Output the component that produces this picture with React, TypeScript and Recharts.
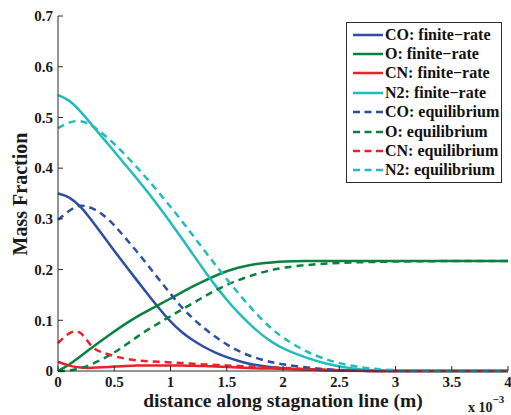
import { LineChart, Line, XAxis, YAxis, Legend, Label } from 'recharts';

const distance = [0, 0.1, 0.2, 0.3, 0.4, 0.5, 0.6, 0.7, 0.8, 0.9, 1.0, 1.1, 1.2, 1.3, 1.4, 1.5, 1.6, 1.7, 1.8, 1.9, 2.0, 2.2, 2.4, 2.6, 2.8, 3.0, 3.5, 4.0];

const coFinite = [0.350, 0.344, 0.325, 0.297, 0.267, 0.237, 0.208, 0.179, 0.151, 0.123, 0.097, 0.076, 0.060, 0.047, 0.036, 0.027, 0.020, 0.014, 0.010, 0.007, 0.005, 0.003, 0.001, 0.0005, 0, 0, 0, 0];
const oFinite = [0, 0.012, 0.029, 0.046, 0.062, 0.078, 0.093, 0.107, 0.119, 0.131, 0.143, 0.155, 0.167, 0.178, 0.188, 0.197, 0.204, 0.209, 0.212, 0.214, 0.216, 0.217, 0.217, 0.217, 0.217, 0.217, 0.217, 0.217];
const cnFinite = [0.018, 0.010, 0.006, 0.006, 0.007, 0.009, 0.010, 0.011, 0.011, 0.011, 0.011, 0.011, 0.010, 0.010, 0.009, 0.008, 0.007, 0.006, 0.005, 0.005, 0.004, 0.003, 0.002, 0.001, 0, 0, 0, 0];
const n2Finite = [0.544, 0.535, 0.512, 0.486, 0.459, 0.433, 0.406, 0.380, 0.352, 0.323, 0.293, 0.262, 0.230, 0.198, 0.168, 0.140, 0.115, 0.093, 0.073, 0.057, 0.044, 0.026, 0.013, 0.005, 0.001, 0, 0, 0];

const coEquil = [0.298, 0.317, 0.329, 0.322, 0.309, 0.288, 0.262, 0.236, 0.208, 0.180, 0.152, 0.125, 0.103, 0.084, 0.067, 0.052, 0.040, 0.030, 0.023, 0.017, 0.013, 0.007, 0.003, 0.001, 0, 0, 0, 0];
const oEquil = [0, 0.001, 0.005, 0.013, 0.024, 0.036, 0.051, 0.067, 0.082, 0.095, 0.108, 0.121, 0.134, 0.147, 0.159, 0.170, 0.179, 0.187, 0.194, 0.199, 0.204, 0.209, 0.212, 0.214, 0.215, 0.216, 0.217, 0.217];
const cnEquil = [0.055, 0.077, 0.082, 0.044, 0.036, 0.029, 0.024, 0.021, 0.019, 0.018, 0.017, 0.016, 0.014, 0.013, 0.012, 0.011, 0.010, 0.009, 0.008, 0.007, 0.006, 0.004, 0.002, 0.001, 0, 0, 0, 0];
const n2Equil = [0.479, 0.491, 0.495, 0.485, 0.468, 0.448, 0.426, 0.402, 0.377, 0.351, 0.324, 0.296, 0.267, 0.238, 0.209, 0.181, 0.154, 0.128, 0.104, 0.083, 0.065, 0.038, 0.021, 0.010, 0.004, 0.001, 0, 0];

const xTicks = [0, 0.5, 1, 1.5, 2, 2.5, 3, 3.5, 4];
const yTicks = [0, 0.1, 0.2, 0.3, 0.4, 0.5, 0.6, 0.7];

const series = [
  { key: 'coF', name: 'CO: finite\u2212rate', color: '#2e4ea2', dashed: false },
  { key: 'oF', name: 'O: finite\u2212rate', color: '#0b8140', dashed: false },
  { key: 'cnF', name: 'CN: finite\u2212rate', color: '#ec2027', dashed: false },
  { key: 'n2F', name: 'N2: finite\u2212rate', color: '#22bcbd', dashed: false },
  { key: 'coE', name: 'CO: equilibrium', color: '#2e4ea2', dashed: true },
  { key: 'oE', name: 'O: equilibrium', color: '#0b8140', dashed: true },
  { key: 'cnE', name: 'CN: equilibrium', color: '#ec2027', dashed: true },
  { key: 'n2E', name: 'N2: equilibrium', color: '#22bcbd', dashed: true },
];

const data = distance.map((x, i) => ({
  x,
  coF: coFinite[i], oF: oFinite[i], cnF: cnFinite[i], n2F: n2Finite[i],
  coE: coEquil[i], oE: oEquil[i], cnE: cnEquil[i], n2E: n2Equil[i],
}));

const FONT = 'Liberation Serif, DejaVu Serif, serif';
const AXIS = '#2a2a2a';

const renderLegend = () => (
  <div style={{ border: `1px solid ${AXIS}`, background: '#fff', width: 154, padding: '2px 0 2px 0', fontFamily: FONT, fontWeight: 'bold', fontSize: 16 }}>
    {series.map((s) => (
      <div key={s.key} style={{ display: 'flex', alignItems: 'center', height: 19.4, whiteSpace: 'nowrap' }}>
        <svg width={38} height={10} style={{ flex: 'none' }}>
          <line x1={6} y1={5} x2={36} y2={5} stroke={s.color} strokeWidth={2.5} strokeDasharray={s.dashed ? '7 4.5' : undefined} />
        </svg>
        <span style={{ color: '#111' }}>{s.name}</span>
      </div>
    ))}
  </div>
);

const tickStyle = { fontFamily: FONT, fontWeight: 'bold', fontSize: 15, fill: '#1a1a1a' };

export default function App() {
  return (
    <div style={{ position: 'absolute', left: 0, top: 0, fontFamily: FONT }}>
      <LineChart width={511} height={415} data={data} margin={{ top: 16, right: 3, left: 0, bottom: 0 }}>
        <XAxis
          dataKey="x"
          type="number"
          domain={[0, 4]}
          ticks={xTicks}
          height={44}
          tickSize={-5}
          tickMargin={10}
          stroke={AXIS}
          tick={tickStyle}
          interval={0}
        >
          <Label
            content={() => (
              <g>
                <text x={283} y={407} textAnchor="middle" fontFamily={FONT} fontWeight="bold" fontSize={19.5} fill="#1a1a1a">distance along stagnation line (m)</text>
                <text x={468} y={412} fontFamily={FONT} fontWeight="bold" fontSize={14} fill="#1a1a1a">
                  x 10<tspan dy={-9} fontSize={11}>{'\u22123'}</tspan>
                </text>
              </g>
            )}
          />
        </XAxis>
        <XAxis xAxisId="top" orientation="top" type="number" domain={[0, 4]} ticks={xTicks} height={0} tickSize={-5} tick={false} stroke={AXIS} interval={0} />
        <YAxis
          type="number"
          domain={[0, 0.7]}
          ticks={yTicks}
          width={58}
          tickSize={-5}
          tickMargin={10}
          stroke={AXIS}
          tick={tickStyle}
          interval={0}
        >
          <Label
            content={() => (
              <text x={20} y={194} transform="rotate(-90 20 194)" textAnchor="middle" dominantBaseline="central" fontFamily={FONT} fontWeight="bold" fontSize={20} fill="#1a1a1a">
                Mass Fraction
              </text>
            )}
          />
        </YAxis>
        <YAxis yAxisId="right" orientation="right" type="number" domain={[0, 0.7]} ticks={yTicks} width={0} tickSize={-5} tick={false} stroke={AXIS} interval={0} />
        <Legend
          content={renderLegend}
          layout="vertical"
          align="center"
          verticalAlign="middle"
          wrapperStyle={{ left: 346, top: 22, width: 156 }}
        />
        {series.map((s) => (
          <Line
            key={s.key}
            dataKey={s.key}
            name={s.name}
            type="basis"
            stroke={s.color}
            strokeWidth={2.5}
            strokeDasharray={s.dashed ? '7 5' : undefined}
            dot={false}
            activeDot={false}
            isAnimationActive={false}
          />
        ))}
      </LineChart>
    </div>
  );
}
